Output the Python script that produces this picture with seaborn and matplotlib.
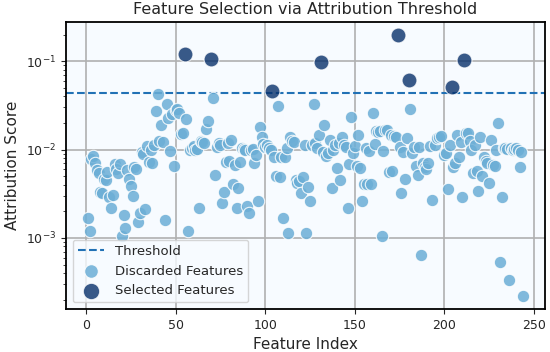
import numpy as np
import pandas as pd
import seaborn as sns
import matplotlib
matplotlib.use("Agg")
import matplotlib.pyplot as plt

# attribution scores
discarded_idx = [
    1, 2, 3, 4, 5, 6, 7, 8, 9, 10, 11, 12, 13, 14, 15, 16, 17, 18, 19, 20,
    21, 22, 23, 24, 25, 26, 27, 28, 29, 30, 31, 32, 33, 34, 35, 36, 37, 38, 39, 40,
    41, 42, 43, 44, 45, 46, 47, 48, 49, 50, 51, 52, 53, 54, 56, 57, 58, 59, 60, 61,
    62, 63, 64, 65, 66, 67, 68, 71, 72, 73, 74, 75, 76, 77, 78, 79, 80, 81, 82, 83,
    84, 85, 86, 87, 88, 89, 90, 91, 92, 93, 94, 95, 96, 97, 98, 99, 100, 101, 102, 103,
    105, 106, 107, 108, 109, 110, 111, 112, 113, 114, 115, 116, 117, 118, 119, 120, 121, 122, 123, 124,
    125, 126, 127, 128, 129, 130, 132, 133, 134, 135, 136, 137, 138, 139, 140, 141, 142, 143, 144, 145,
    146, 147, 148, 149, 150, 151, 152, 153, 154, 155, 156, 157, 158, 159, 160, 161, 162, 163, 164, 165,
    166, 167, 168, 169, 170, 171, 172, 173, 175, 176, 177, 178, 179, 181, 182, 183, 184, 185, 186, 187,
    188, 189, 190, 191, 192, 193, 195, 196, 197, 198, 200, 201, 202, 203, 205, 206, 207, 208, 209, 210,
    212, 213, 214, 215, 216, 217, 218, 219, 220, 221, 222, 223, 224, 225, 226, 227, 228, 229, 230, 231,
    232, 233, 234, 235, 236, 237, 238, 239, 240, 241, 242, 243, 244,
]
discarded_val = [
    0.0017, 0.0012, 0.0079, 0.0085, 0.0071, 0.0058, 0.0054, 0.0033, 0.0032, 0.0047,
    0.0045, 0.0056, 0.0029, 0.0022, 0.0031, 0.0068, 0.0060, 0.0055, 0.0069, 0.00105,
    0.0018, 0.0013, 0.0059, 0.0047, 0.0039, 0.0030, 0.0064, 0.0061, 0.0015, 0.0019,
    0.0095, 0.0089, 0.0021, 0.0110, 0.0073, 0.0100, 0.0071, 0.0112, 0.0272, 0.0430,
    0.0125, 0.0190, 0.0122, 0.0016, 0.0330, 0.0225, 0.0097, 0.0250, 0.0065, 0.0280,
    0.0290, 0.0257, 0.0150, 0.0153, 0.0220, 0.0012, 0.0098, 0.0105, 0.0110, 0.0098,
    0.0102, 0.0022, 0.0125, 0.0122, 0.0118, 0.0170, 0.0210, 0.0380, 0.0051, 0.0108,
    0.0120, 0.0112, 0.0025, 0.0033, 0.0073, 0.0120, 0.0075, 0.0130, 0.0041, 0.0067,
    0.0022, 0.0037, 0.0073, 0.0105, 0.0102, 0.0099, 0.0023, 0.0019, 0.0098, 0.0101,
    0.0070, 0.0087, 0.0026, 0.0180, 0.0140, 0.0115, 0.0108, 0.0112, 0.0105, 0.0098,
    0.0083, 0.0050, 0.0310, 0.0049, 0.0083, 0.0017, 0.0082, 0.0105, 0.00115, 0.0140,
    0.0125, 0.0122, 0.0045, 0.0042, 0.0044, 0.0032, 0.0049, 0.0114, 0.00115, 0.0038,
    0.0026, 0.0113, 0.0327, 0.0118, 0.0103, 0.0145, 0.0095, 0.0190, 0.0084, 0.0091,
    0.0128, 0.0037, 0.0098, 0.0113, 0.0062, 0.0120, 0.0045, 0.0140, 0.0113, 0.0108,
    0.0022, 0.0068, 0.0235, 0.0091, 0.0110, 0.0066, 0.0145, 0.0062, 0.0026, 0.0041,
    0.0103, 0.0041, 0.0097, 0.0041, 0.0257, 0.0116, 0.0162, 0.0160, 0.0164, 0.00104,
    0.0097, 0.0166, 0.0166, 0.0056, 0.0146, 0.0057, 0.0142, 0.0140, 0.0108, 0.0032,
    0.0093, 0.0046, 0.0134, 0.0285, 0.0091, 0.0108, 0.0066, 0.0052, 0.0108, 0.00064,
    0.0071, 0.0063, 0.0060, 0.0071, 0.0110, 0.0027, 0.0113, 0.0135, 0.0140, 0.0142,
    0.0087, 0.0091, 0.0036, 0.0113, 0.0064, 0.0070, 0.0146, 0.0082, 0.0123, 0.0029,
    0.0155, 0.0153, 0.0125, 0.0098, 0.0055, 0.0113, 0.0057, 0.0034, 0.0140, 0.0050,
    0.0083, 0.0075, 0.0070, 0.0042, 0.0128, 0.0067, 0.0065, 0.0098, 0.0200, 0.00053,
    0.0029, 0.0105, 0.0103, 0.0101, 0.00033, 0.0103, 0.0100, 0.0102, 0.0103, 0.0099,
    0.0064, 0.0095, 0.00022,
]
selected_idx = [55, 70, 104, 131, 174, 180, 204, 211]
selected_val = [0.120, 0.107, 0.046, 0.098, 0.197, 0.062, 0.051, 0.102]
threshold = 0.0435

sns.set_style("ticks", {"axes.grid": True, "grid.color": "#b0b0b0",
                        "axes.facecolor": "#f7fbff", "axes.edgecolor": "black"})
plt.rcParams['font.family'] = ['DejaVu Sans']

fig, ax = plt.subplots(figsize=(5.5, 3.52), dpi=100)
fig.subplots_adjust(left=0.12, right=0.991, top=0.937, bottom=0.122)

disc = pd.DataFrame({'idx': discarded_idx, 'val': discarded_val})
sel = pd.DataFrame({'idx': selected_idx, 'val': selected_val})

ax.axhline(threshold, color='#2171b5', ls='--', lw=1.5, label='Threshold', zorder=2)
sns.scatterplot(data=disc, x='idx', y='val', ax=ax, color='#6baed6', s=80,
                alpha=0.85, edgecolor='white', linewidth=0.8,
                label='Discarded Features', zorder=3)
sns.scatterplot(data=sel, x='idx', y='val', ax=ax, color='#08306b', s=115,
                alpha=0.8, edgecolor='white', linewidth=0.8,
                label='Selected Features', zorder=4)

ax.set_yscale('log')
ax.grid(True, which='major', color='#b0b0b0', lw=1.2)
ax.grid(False, which='minor')
for s in ax.spines.values():
    s.set_linewidth(1.3)
ax.tick_params(labelsize=9)
ax.set_xticks([0, 50, 100, 150, 200, 250])
ax.set_title("Feature Selection via Attribution Threshold", fontsize=11.5)
ax.set_xlabel("Feature Index", fontsize=11)
ax.set_ylabel("Attribution Score", fontsize=11)
ax.legend(loc='lower left', fontsize=9.5, frameon=True, markerscale=1.1)

fig.savefig("out.png", dpi=100)
